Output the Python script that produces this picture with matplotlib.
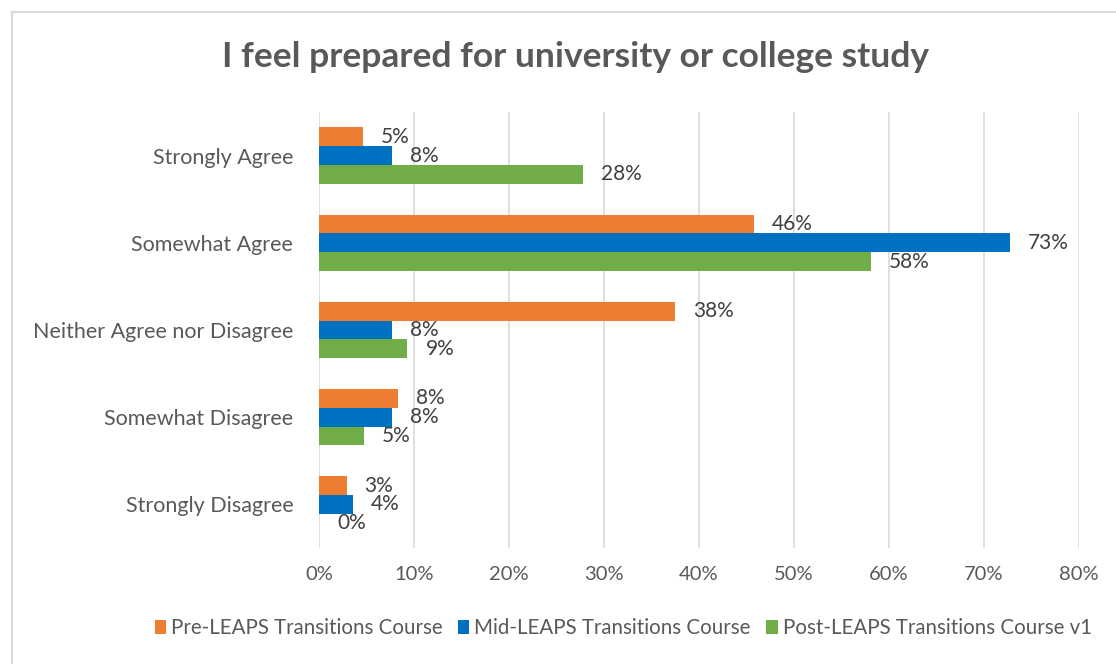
import numpy as np
import matplotlib
matplotlib.use("Agg")
import matplotlib.pyplot as plt
from matplotlib.patches import Rectangle

# data
categories = ["Strongly Agree", "Somewhat Agree", "Neither Agree nor Disagree",
              "Somewhat Disagree", "Strongly Disagree"]
series_names = ["Pre-LEAPS Transitions Course", "Mid-LEAPS Transitions Course",
                "Post-LEAPS Transitions Course v1"]
pre_vals = [0.046, 0.458, 0.375, 0.083, 0.029]
mid_vals = [0.077, 0.727, 0.077, 0.077, 0.036]
post_vals = [0.278, 0.581, 0.093, 0.047, 0.0]
xticks = [0, 0.1, 0.2, 0.3, 0.4, 0.5, 0.6, 0.7, 0.8]

colors = ["#ed7d31", "#0070c0", "#70ad47"]
txt = "#595959"
grid = "#d9d9d9"

plt.rcParams['font.family'] = ['Lato', 'DejaVu Sans']

fig = plt.figure(figsize=(11.16, 6.64), dpi=100)
fig.patches.append(Rectangle((12/1116, -0.1), 1.2, 1 - 12/664 + 0.1,
                             transform=fig.transFigure, fill=False,
                             edgecolor=grid, linewidth=1.5))

ax = fig.add_axes([319/1116, 1 - 548/664, 760/1116, 436/664])
y = np.arange(len(categories))
h = 0.215
all_vals = [pre_vals, mid_vals, post_vals]
for i, vals in enumerate(all_vals):
    pos = y + (i - 1) * h
    ax.barh(pos, vals, height=h, color=colors[i], label=series_names[i], zorder=3)
    for p, v in zip(pos, vals):
        ax.text(v + 0.019, p, "%d%%" % round(v * 100), va="center", ha="left",
                fontsize=15, color="#404040", zorder=4)

ax.set_xlim(0, 0.8)
ax.set_ylim(4.5, -0.5)
ax.set_xticks(xticks)
ax.set_xticklabels(["%d%%" % round(t * 100) for t in xticks])
ax.set_yticks(y)
ax.set_yticklabels(categories, fontsize=15.5)
ax.tick_params(axis="both", length=0, labelcolor=txt)
ax.tick_params(axis="x", labelsize=14.5, pad=13)
ax.tick_params(axis="y", pad=18.5)
ax.grid(axis="x", color=grid, linewidth=1.2, zorder=0)
for s in ax.spines.values():
    s.set_visible(False)

fig.text(575/1116, 1 - 57/664, "I feel prepared for university or college study",
         ha="center", va="center", fontsize=25.5, fontweight="bold", color=txt)

leg = fig.legend(loc="center left", bbox_to_anchor=(136/1116, 1 - 628/664), ncol=3,
                 frameon=False, fontsize=14.8, handlelength=0.55, handleheight=0.7,
                 handletextpad=0.25, columnspacing=0.75, labelcolor=txt)

fig.savefig("out.png", dpi=100)
